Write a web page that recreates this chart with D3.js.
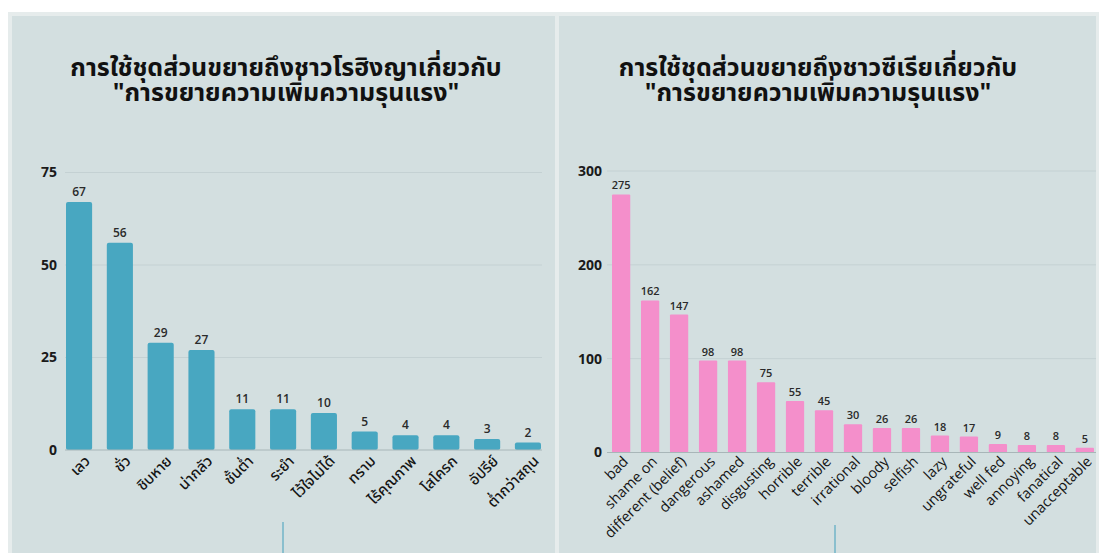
<!DOCTYPE html>
<html><head><meta charset="utf-8">
<script src="https://cdn.jsdelivr.net/npm/d3@7"></script>
<style>
html,body{margin:0;padding:0;background:#fff;}
svg{display:block;}
text{font-family:"Noto Sans Thai","Noto Sans","Open Sans",sans-serif;}
</style></head>
<body>
<svg id="c" width="1099" height="553"></svg>
<script>
// ---- Data ----
const leftTitle = ["การใช้ชุดส่วนขยายถึงชาวโรฮิงญาเกี่ยวกับ", "\"การขยายความเพิ่มความรุนแรง\""];
const leftCategories = ["เลว","ชั่ว","ชิบหาย","น่ากลัว","ชั้นต่ำ","ระยำ","ไว้ใจไม่ได้","ทราม","ไร้คุณภาพ","โสโครก","อัปรีย์","ต่ำกว่าสถุน"];
const leftValues = [67,56,29,27,11,11,10,5,4,4,3,2];
const leftTicks = [0,25,50,75];

const rightTitle = ["การใช้ชุดส่วนขยายถึงชาวซีเรียเกี่ยวกับ", "\"การขยายความเพิ่มความรุนแรง\""];
const rightCategories = ["bad","shame on","different (belief)","dangerous","ashamed","disgusting","horrible","terrible","irrational","bloody","selfish","lazy","ungrateful","well fed","annoying","fanatical","unacceptable"];
const rightValues = [275,162,147,98,98,75,55,45,30,26,26,18,17,9,8,8,5];
const rightTicks = [0,100,200,300];

const svg = d3.select("#c");

// panels
function panel(x0,y0,x1,y1){
  svg.append("rect").attr("x",x0).attr("y",y0).attr("width",x1-x0).attr("height",y1-y0).attr("fill","#e6ecec");
  svg.append("rect").attr("x",x0+4).attr("y",y0+4).attr("width",x1-x0-7).attr("height",y1-y0).attr("fill","#d3dfe0");
}
panel(8,12,558,560);
panel(555,12,1099,560);

function chart(cfg){
  const g = svg.append("g");
  // title (two separate lines)
  cfg.title.forEach((line,i)=>{
    g.append("text").attr("text-anchor","middle").attr("font-weight","700")
      .attr("font-size",cfg.titleFont).attr("fill","#111")
      .attr("x",cfg.titleX).attr("y",cfg.titleY + i*25).text(line);
  });
  const x = d3.scaleBand().domain(cfg.cats).range(cfg.xr).paddingInner(cfg.pad).paddingOuter(0);
  const y = d3.scaleLinear().domain([0,cfg.max]).range(cfg.yr);
  // grid
  g.append("g").selectAll("line").data(cfg.ticks.filter(d=>d>0)).join("line")
    .attr("x1",cfg.gx[0]).attr("x2",cfg.gx[1]).attr("y1",d=>y(d)).attr("y2",d=>y(d))
    .attr("stroke","#c4d1d3").attr("stroke-width",1);
  // y axis labels
  const ya = g.append("g").attr("transform",`translate(${cfg.yLabelX},0)`)
    .call(d3.axisLeft(y).tickValues(cfg.ticks).tickSize(0).tickPadding(0));
  ya.select(".domain").remove();
  ya.selectAll("text").attr("font-size",14).attr("font-weight","700").attr("fill","#1a1a1a")
    .style("font-family","'Open Sans','Noto Sans',sans-serif");
  // bars
  g.append("g").selectAll("rect").data(cfg.vals).join("rect")
    .attr("x",(d,i)=>x(cfg.cats[i])).attr("width",x.bandwidth())
    .attr("y",d=>y(d)).attr("height",d=>y(0)-y(d)).attr("rx",cfg.rx)
    .attr("fill",cfg.color);
  // baseline
  g.append("line").attr("x1",cfg.gx[0]).attr("x2",cfg.gx[1]).attr("y1",y(0)).attr("y2",y(0))
    .attr("stroke","#a8b6b8").attr("stroke-width",1);
  // value labels
  g.append("g").selectAll("text").data(cfg.vals).join("text")
    .attr("x",(d,i)=>x(cfg.cats[i])+x.bandwidth()/2).attr("y",d=>y(d)-cfg.labelGap)
    .attr("text-anchor","middle").attr("font-size",cfg.valFont).attr("font-weight","600")
    .attr("fill","#2a2a2a").style("font-family","'Open Sans','Noto Sans',sans-serif")
    .text(d=>d);
  // x labels
  const xa = g.append("g").attr("transform",`translate(0,${y(0)})`)
    .call(d3.axisBottom(x).tickSize(0).tickPadding(0));
  xa.select(".domain").remove();
  xa.selectAll("text").attr("font-size",cfg.xFont).attr("font-weight",cfg.xWeight).attr("fill","#151515")
    .attr("text-anchor","end").attr("dy",null).attr("y",0)
    .attr("transform",`translate(${cfg.xlOff[0]},${cfg.xlOff[1]}) rotate(-45)`)
    .style("font-family",cfg.xFamily);
  // bottom little line
  g.append("line").attr("x1",cfg.markX).attr("x2",cfg.markX).attr("y1",cfg.markY).attr("y2",553)
    .attr("stroke","#5aaac2").attr("stroke-width",1.2);
}

chart({
  title:leftTitle, titleX:286, titleY:76, titleFont:25,
  cats:leftCategories, vals:leftValues, ticks:leftTicks, max:75,
  xr:[66,541], pad:0.36, yr:[450,172.5], gx:[65,542], yLabelX:57,
  color:"#48a7c1", rx:2, labelGap:6, valFont:12, xFont:15, xWeight:500,
  xlOff:[12,12], xFamily:"'Noto Sans Thai','Noto Sans',sans-serif",
  markX:283, markY:522
});
chart({
  title:rightTitle, titleX:818, titleY:76, titleFont:25,
  cats:rightCategories, vals:rightValues, ticks:rightTicks, max:300,
  xr:[612,1094], pad:0.37, yr:[452.5,171], gx:[607,1096], yLabelX:602,
  color:"#f48fcb", rx:1, labelGap:5, valFont:11, xFont:14.5, xWeight:400,
  xlOff:[8,10], xFamily:"'Open Sans','Noto Sans',sans-serif",
  markX:835, markY:525
});
</script>
</body></html>
